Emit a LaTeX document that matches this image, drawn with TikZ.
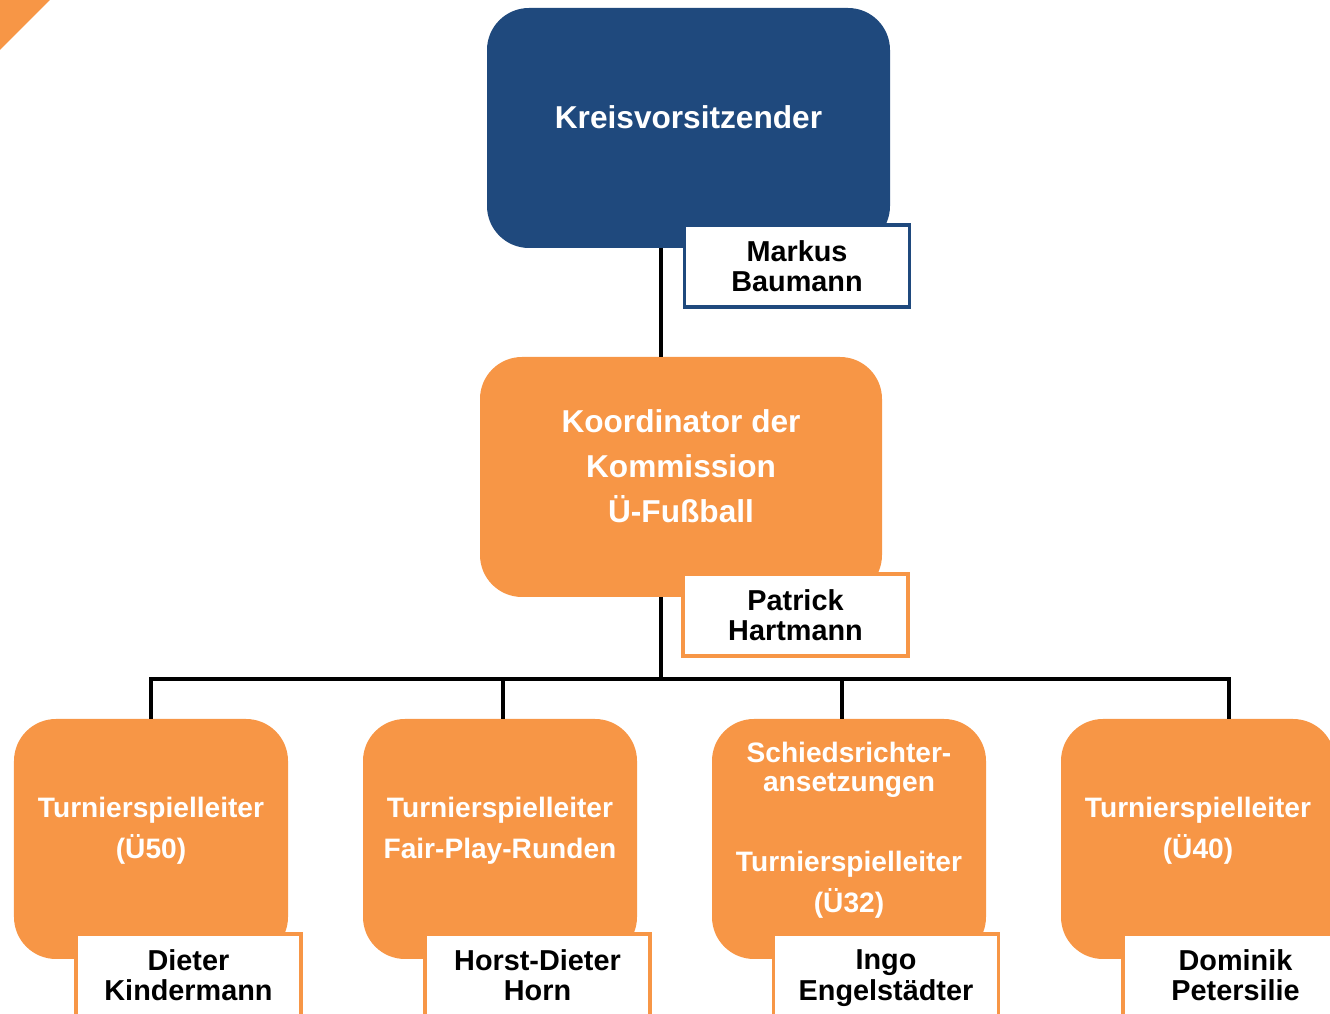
\documentclass[tikz,border=0pt]{standalone}
\usepackage{fontspec}
\setmainfont{Liberation Sans}
\usetikzlibrary{positioning}
\definecolor{kreisBlue}{RGB}{31,73,125}
\definecolor{kreisOrange}{RGB}{247,150,70}
% push the text of a box a little above its middle
\newcommand{\liftup}{\\[\dimexpr6.5pt-\baselineskip]\mbox{}}

\begin{document}
\begin{tikzpicture}[
  node distance=0.75cm,
  unitbox/.style={fill=kreisOrange, rounded corners=0.42cm, align=center, inner sep=0pt,
                  outer sep=0pt, minimum width=2.74cm, minimum height=2.40cm, text=white,
                  font=\bfseries\fontsize{8}{11.7}\selectfont},
  namebox/.style={draw=kreisOrange, fill=white, line width=1.1pt, align=center, inner sep=0pt,
                  minimum width=2.25cm, minimum height=0.82cm,
                  font=\bfseries\fontsize{8.2}{8.7}\selectfont},
  link/.style={line width=1pt}
]
\useasboundingbox (0,0) rectangle (13.30,-10.14);
\clip (0,0) rectangle (13.30,-10.14);
\fill[kreisOrange] (0,0) -- (0.5,0) -- (0,-0.5) -- cycle;

% leadership
\node[unitbox, fill=kreisBlue, minimum width=4.03cm, font=\bfseries\fontsize{9}{12.8}\selectfont]
  (chair) at (6.885,-1.28) {Kreisvorsitzender\liftup};
\node[unitbox, minimum width=4.02cm, font=\bfseries\fontsize{9}{12.8}\selectfont]
  (coord) at (6.81,-4.77) {Koordinator der\\Kommission\\Ü-Fußball\liftup};
\coordinate (trunk) at (6.61,-6.79);
\draw[link] (chair.south -| trunk) -- (coord.north -| trunk);
\draw[link] (coord.south -| trunk) -- (trunk);
\node[namebox, draw=kreisBlue, line width=0.9pt] (baumann) at (7.97,-2.66) {Markus\\Baumann};
\node[namebox] (hartmann) at (7.955,-6.15) {Patrick\\Hartmann};

% tournament leaders
\node[unitbox] (ue50) at (1.51,-8.39) {Turnierspielleiter\\(Ü50)\liftup};
\node[unitbox, right=of ue50] (fairplay) {Turnierspielleiter\\Fair-Play-Runden\liftup};
\node[unitbox, right=of fairplay] (ue32) {Schiedsrichter-\\[-3.4pt]ansetzungen\\[11.1pt]Turnierspielleiter\\(Ü32)\liftup};
\node[unitbox, right=of ue32] (ue40) {Turnierspielleiter\\(Ü40)\liftup};
\draw[link] (trunk) -| (ue50.north);
\draw[link] (trunk) -| ([xshift=0.03cm]fairplay.north);
\draw[link] (trunk) -| ([xshift=-0.07cm]ue32.north);
\draw[link] (trunk) -| ([xshift=0.31cm]ue40.north);
\node[namebox] (kindermann) at (1.885,-9.75) {Dieter\\Kindermann};
\node[namebox] (horn) at (5.375,-9.75) {Horst-Dieter\\Horn};
\node[namebox] (engel) at (8.86,-9.75) {Ingo\\\raisebox{0pt}[\height][0pt]{Engelstädter}};
\node[namebox] (petersilie) at (12.355,-9.75) {Dominik\\Petersilie};
\end{tikzpicture}
\end{document}
